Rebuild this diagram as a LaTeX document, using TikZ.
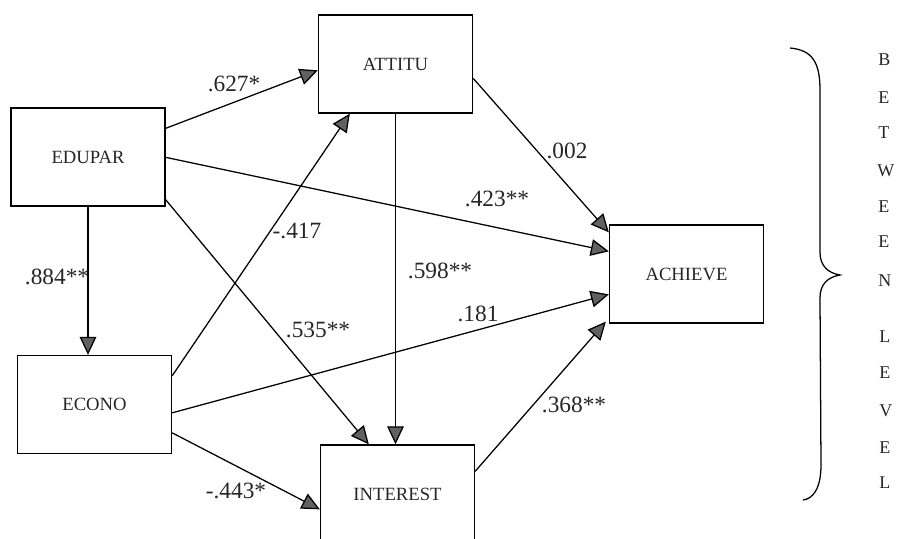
\documentclass[tikz,border=0pt]{standalone}
\usepackage{fontspec}
\setmainfont{Liberation Serif}
\usetikzlibrary{arrows.meta,calc}

\tikzset{
  varbox/.style={draw=black, line width=1pt, rectangle, inner sep=0pt,
    minimum width=115.5pt, minimum height=73.5pt,
    font=\fontsize{14}{16}\selectfont, text=black!85},
  coef/.style={inner sep=0pt, font=\fontsize{17.5}{20}\selectfont, text=black!85},
  spell/.style={inner sep=0pt, anchor=west, font=\fontsize{13.5}{15}\selectfont, text=black!85},
  path/.style={draw=black, line width=0.95pt,
    -{Triangle[length=13.5pt,width=12.5pt,fill=black!62]}},
  bracestroke/.style={draw=black, line width=0.95pt}
}

\begin{document}
\begin{tikzpicture}[x=0.75pt, y=-0.75pt]
\useasboundingbox (0,0) rectangle (897,539);

% variables
\node[varbox] (attitu)   at (395.5,64)  {ATTITU};
\node[varbox] (edupar)   at (88,157)    {EDUPAR};
\node[varbox] (econo)    at (94.5,404.5){ECONO};
\node[varbox] (achieve)  at (686.5,274) {ACHIEVE};
\node[varbox] (interest) at (397.5,494) {INTEREST};

% paths from EDUPAR
\draw[path] ($(edupar.north east)+(0,21)$) -- ($(attitu.north west)+(0,56)$);
\draw[path] ($(edupar.north east)+(0,50)$) -- ($(achieve.north west)+(0,27)$);
\draw[path] ($(edupar.south east)+(0,-7)$) -- ($(interest.north west)+(49,0)$);
\draw[path] (edupar.south) -- (edupar.south |- econo.north);

% paths from ECONO
\draw[path] ($(econo.north east)+(0,21)$) -- ($(attitu.south west)+(32,0)$);
\draw[path] ($(econo.north east)+(0,58)$) -- ($(achieve.north west)+(0,70)$);
\draw[path] ($(econo.north east)+(0,78)$) -- ($(interest.north west)+(0,65)$);

% paths from ATTITU
\draw[path] ($(attitu.north east)+(0,64)$) -- ($(achieve.north west)+(0,8)$);
\draw[path] (attitu.south) -- (attitu.south |- interest.north);

% path from INTEREST
\draw[path] ($(interest.north east)+(0,27)$) -- ($(achieve.south west)+(-3,-2)$);

% coefficients
\node[coef] (c1)  at (234,84)  {.627*};
\node[coef] (c2)  at (497,199) {.423**};
\node[coef] (c3)  at (567,151) {.002};
\node[coef] (c4)  at (297,231) {-.417};
\node[coef] (c5)  at (440,271) {.598**};
\node[coef] (c6)  at (57,277)  {.884**};
\node[coef] (c7)  at (318,330) {.535**};
\node[coef] (c8)  at (478,314) {.181};
\node[coef] (c9)  at (574,405) {.368**};
\node[coef] (c10) at (236,491) {-.443*};

% right brace
\draw[bracestroke] (790,48) .. controls (812,50) and (820,62) .. (820,90)
  -- (820,252) .. controls (820,266) and (828,273) .. (840,275)
  .. controls (828,277) and (820,284) .. (820,298)
  -- (821,465) .. controls (821,490) and (812,499) .. (803,500);

% spelled-out side label
\node[spell] (s1)  at (878,60)  {B};
\node[spell] (s2)  at (878,98)  {E};
\node[spell] (s3)  at (878,133) {T};
\node[spell] (s4)  at (877,171) {W};
\node[spell] (s5)  at (878,207) {E};
\node[spell] (s6)  at (878,242) {E};
\node[spell] (s7)  at (878,281) {N};
\node[spell] (s8)  at (879,337) {L};
\node[spell] (s9)  at (879,373) {E};
\node[spell] (s10) at (879,411) {V};
\node[spell] (s11) at (879,448) {E};
\node[spell] (s12) at (879,483) {L};
\end{tikzpicture}
\end{document}
